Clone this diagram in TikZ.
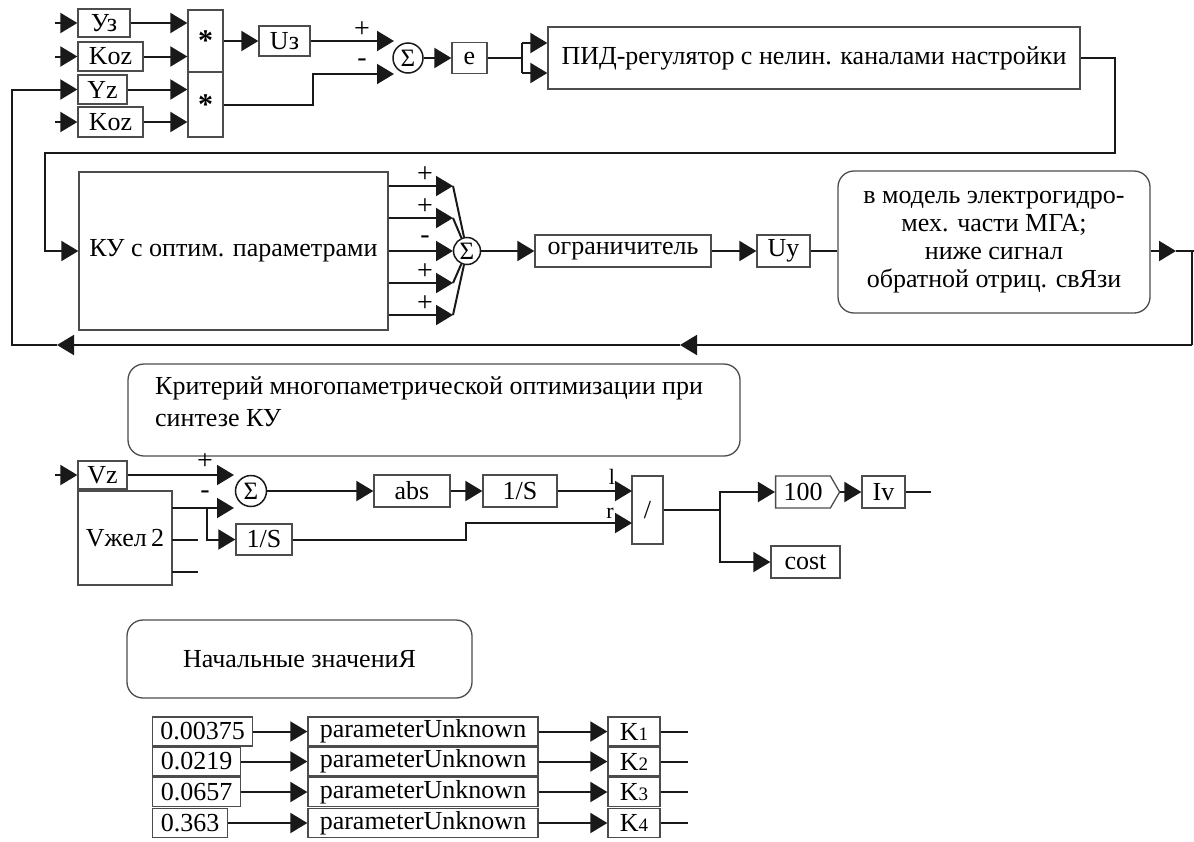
\documentclass[tikz,border=0pt]{standalone}
\usepackage{fontspec}
\setmainfont{Liberation Serif}
\usetikzlibrary{arrows.meta,shapes.symbols}
\begin{document}
\begin{tikzpicture}[x=1pt,y=-1pt,
  box/.style={draw=black!70,line width=1.3pt,inner sep=0pt,font=\fontsize{26}{28}\selectfont},
  rbox/.style={box,rounded corners=16pt},
  wire/.style={draw=black!90,line width=2pt},
  arr/.style={wire,-{Triangle[length=17pt,width=20pt]}},
  sumc/.style={circle,draw=black!90,line width=1.5pt,inner sep=0pt,font=\fontsize{25}{25}\selectfont},
  sgn/.style={inner sep=0pt,font=\fontsize{28}{28}\selectfont},
  lbl/.style={inner sep=0pt,font=\fontsize{22}{22}\selectfont},
  ast/.style={box,font=\fontsize{30}{30}\selectfont\bfseries},
]
\useasboundingbox (0,0) rectangle (1194,841);
\fill[white] (0,0) rectangle (1194,841);

% ---------- Row 1 ----------
\node[box,minimum width=52pt,minimum height=28pt] (uz) at (104,23) {Уз};
\node[box,minimum width=65pt,minimum height=29pt] (koz1) at (110.5,56.5) {Koz};
\node[box,minimum width=49pt,minimum height=29pt] (yz) at (102.5,89.5) {Yz};
\node[box,minimum width=65pt,minimum height=30pt] (koz2) at (110.5,122) {Koz};
\node[ast,minimum width=35pt,minimum height=62pt] (m1) at (205.5,41) {\raisebox{-7pt}{*}};
\node[ast,minimum width=35pt,minimum height=65pt] (m2) at (205.5,104.5) {\raisebox{-7pt}{*}};
\node[box,minimum width=51pt,minimum height=30pt] (u3) at (284.5,41) {Uз};
\node[sumc,minimum size=30pt] (s1) at (408,58) {Σ};
\node[box,minimum width=35pt,minimum height=31pt] (e) at (469.5,58) {e};
\node[box,minimum width=532pt,minimum height=62pt] (pid) at (814,58) {ПИД-регулятор с нелин. каналами настройки};

\coordinate (i1) at (55,23);
\coordinate (i2) at (55,56.5);
\coordinate (i4) at (55,122);
\draw[arr] (i1) -- (uz.west);
\draw[arr] (i2) -- (koz1.west);
\draw[arr] (i4) -- (koz2.west);
\draw[arr] (uz.east) -- (uz.east -| m1.west);
\draw[arr] (koz1.east) -- (koz1.east -| m1.west);
\draw[arr] (yz.east) -- (yz.east -| m2.west);
\draw[arr] (koz2.east) -- (koz2.east -| m2.west);
\draw[arr] (m1.east) -- (u3.west);
\coordinate (s1p) at (394,41);
\coordinate (s1m) at (394,74);
\draw[arr] (u3.east) -- (s1p);
\draw[arr] (m2.east) -- (313,104.5) -- (313,74) -- (s1m);
\node[sgn] at (362,30) {+};
\node[sgn] at (362,63) {-};
\draw[arr] (s1.east) -- (e.west);
\coordinate (ej) at (522,58);
\coordinate (ejt) at (522,43);
\coordinate (ejb) at (522,73);
\draw[wire] (e.east) -- (ej);
\draw[wire] (ejt) -- (ejb);
\draw[arr] (ejt) -- (ejt -| pid.west);
\draw[arr] (ejb) -- (ejb -| pid.west);

% ---------- Row 2 ----------
\node[box,minimum width=309pt,minimum height=158pt] (ku) at (233.5,251) {КУ с оптим. параметрами};
\node[sumc,minimum size=27pt] (s2) at (467,251) {Σ};
\draw[arr] (pid.east) -- (1115,58) -- (1115,153) -- (45,153) -- (45,251) -- (ku.west);
\foreach \yy/\sg/\n in {186/+/a,218/+/b,251/-/c,283/+/d,315/+/e}{
  \coordinate (ko\n) at (453,\yy);
  \draw[arr] (ku.east |- ko\n) -- (ko\n);
  \draw[wire] (ko\n) -- (s2);
  \node[sgn] at (425,\yy-11) {\sg};
}
\node[box,minimum width=176pt,minimum height=32pt] (lim) at (623,251) {ограничитель};
\node[box,minimum width=53pt,minimum height=32pt] (uy) at (783.5,251) {Uy};
\node[rbox,minimum width=312pt,minimum height=142pt,align=center] (model) at (994,242)
  {в модель электрогидро-\\мех. части МГА;\\ниже сигнал\\обратной отриц. свЯзи};
\draw[arr] (s2.east) -- (lim.west);
\draw[arr] (lim.east) -- (uy.west);
\draw[wire] (uy.east) -- (uy.east -| model.west);
\coordinate (fa) at (1176,251);
\coordinate (fb) at (1194,251);
\coordinate (fc) at (1192,251);
\coordinate (fd) at (1192,345);
\coordinate (fe) at (680,345);
\coordinate (ff) at (57,345);
\coordinate (fg) at (12,345);
\draw[arr] (model.east |- uy.east) -- (fa);
\draw[wire] (fa) -- (fb);
\draw[wire] (fc) -- (fd);
\draw[arr] (fd) -- (fe);
\draw[arr] (fe) -- (ff);
\draw[arr] (ff) -- (fg) |- (yz.west);

% ---------- Row 3 ----------
\node[rbox,minimum width=612pt,minimum height=92pt] (crit) at (434,410) {};
\node[anchor=north west,align=left,inner sep=0pt,font=\fontsize{26}{32}\selectfont] (critt) at (155,376)
  {Критерий многопаметрической оптимизации при\\синтезе КУ};
\node[box,minimum width=49pt,minimum height=28pt] (vz) at (102.5,475) {Vz};
\node[box,minimum width=94pt,minimum height=94pt] (vzh) at (125,538) {Vжел\,2};
\node[sumc,minimum size=31pt] (s3) at (251,491) {Σ};
\node[box,minimum width=56pt,minimum height=31pt] (is1) at (264,539.5) {1/S};
\node[box,minimum width=76pt,minimum height=32pt] (abs) at (412,491) {abs};
\node[box,minimum width=74pt,minimum height=32pt] (is2) at (520,491) {1/S};
\node[box,minimum width=31pt,minimum height=68pt] (div) at (647.5,510) {/};
\node[box,signal,signal to=east,signal pointer angle=120,minimum width=64pt,minimum height=32pt] (g100) at (803,492) {100};
\node[box,minimum width=43pt,minimum height=32pt] (iv) at (883.5,492) {Iv};
\node[box,minimum width=69pt,minimum height=32pt] (cost) at (805.5,562) {cost};

\coordinate (vin) at (55,475);
\draw[arr] (vin) -- (vz.west);
\coordinate (s3p) at (234,475);
\coordinate (s3m) at (234,508);
\draw[arr] (vz.east) -- (s3p);
\coordinate (vo1) at (172,508);
\coordinate (vo2) at (172,540);
\coordinate (vo3) at (172,572);
\coordinate (vj) at (207,508);
\draw[arr] (vo1) -- (s3m);
\draw[arr] (vj) |- (is1.west);
\draw[wire] (vo2) -- (198,540);
\draw[wire] (vo3) -- (198,572);
\node[sgn] at (205,462) {+};
\node[sgn] at (205,495) {-};
\draw[arr] (s3.east) -- (abs.west);
\draw[arr] (abs.east) -- (is2.west);
\coordinate (d1) at (632,491);
\coordinate (d2) at (632,523);
\draw[arr] (is2.east) -- (d1);
\draw[arr] (is1.east) -- (466,539.5) -- (466,523) -- (d2);
\node[lbl] at (612,477) {l};
\node[lbl] at (610,513) {r};
\coordinate (dj) at (720,510);
\draw[wire] (div.east) -- (dj);
\draw[arr] (dj) |- (g100.west);
\draw[arr] (dj) |- (cost.west);
\draw[arr] (g100.east) -- (iv.west);
\draw[wire] (iv.east) -- ++(25,0);

% ---------- Row 4 ----------
\node[rbox,minimum width=345pt,minimum height=78pt] (init) at (299.5,659) {Начальные значениЯ};
\foreach \i/\yy/\val/\w in {1/731.5/0.00375/100,2/761.5/0.0219/88,3/792/0.0657/88,4/823/0.363/75}{
  \node[box,anchor=west,minimum width=\w pt,minimum height=29pt] (c\i) at (152,\yy) {\val};
  \node[box,minimum width=230pt,minimum height=29pt] (p\i) at (423,\yy) {parameterUnknown};
  \node[box,minimum width=52pt,minimum height=29pt] (k\i) at (634,\yy) {K{\fontsize{19}{19}\selectfont\i}};
  \draw[arr] (c\i.east) -- (p\i.west);
  \draw[arr] (p\i.east) -- (k\i.west);
  \draw[wire] (k\i.east) -- ++(27,0);
}
\end{tikzpicture}
\end{document}
